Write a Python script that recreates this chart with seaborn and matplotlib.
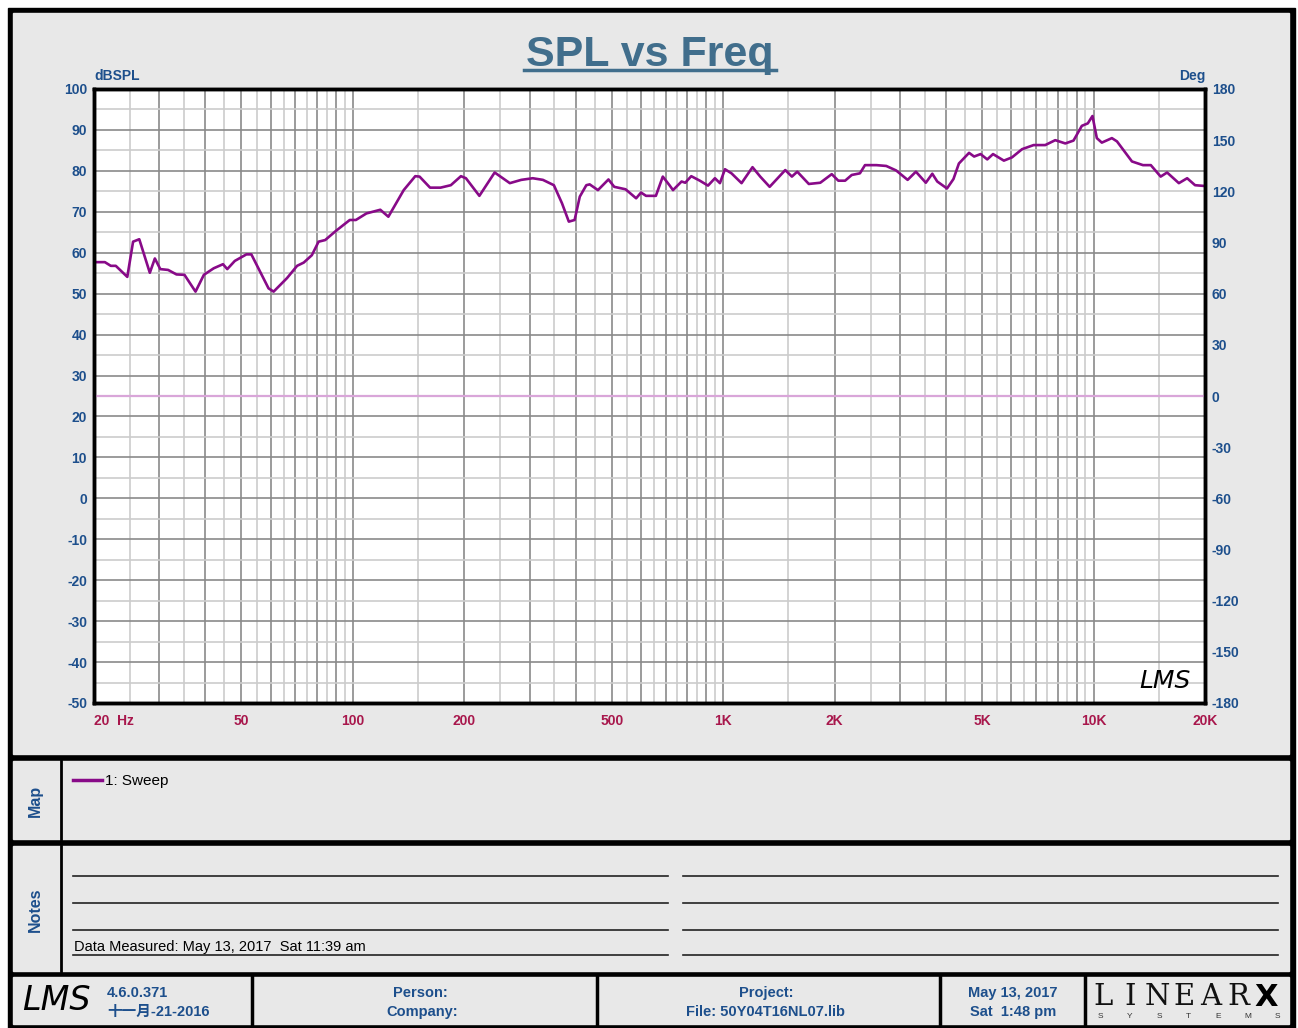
import numpy as np
import pandas as pd
import matplotlib
matplotlib.use("Agg")
import matplotlib.pyplot as plt
from matplotlib.patches import Rectangle
from matplotlib.ticker import NullFormatter
import seaborn as sns

# ---- data
freq_hz = [20, 21.4, 22.2, 22.9, 24.6, 25.5, 26.5, 28.3, 29.2, 30.2, 31.7, 33.4, 35.1, 37.6,
           39.6, 42.1, 44.6, 45.8, 48.0, 51.6, 53.2, 59.2, 61.1, 66.4, 70.7, 73.7, 77.5, 80.8,
           84.2, 89.9, 98.1, 101.9, 108.8, 118.6, 124.7, 137.2, 147.4, 151.4, 161.6, 172.5,
           183.9, 195.8, 202, 219.6, 241.5, 265.4, 284.9, 306, 326, 349, 367, 383, 397, 410,
           427, 436, 459, 490, 508, 545, 582, 600, 619, 658, 687, 716, 732, 772, 790, 820, 865,
           910, 950, 980, 1011, 1053, 1121, 1200, 1259, 1335, 1471, 1533, 1585, 1703, 1829,
           1964, 2046, 2134, 2224, 2340, 2415, 2594, 2756, 2931, 3148, 3314, 3525, 3670, 3785,
           4021, 4186, 4330, 4612, 4760, 4955, 5165, 5354, 5727, 6025, 6413, 6891, 7406, 7883,
           8392, 8830, 9300, 9651, 9935, 10208, 10530, 11210, 11570, 12700, 13600, 14280,
           15180, 15800, 17000, 17900, 18800, 20000]
spl_db = [57.7, 57.7, 56.8, 56.8, 54.1, 62.7, 63.3, 55.1, 58.6, 56.0, 55.8, 54.7, 54.6, 50.5,
          54.6, 56.2, 57.2, 56.0, 58.0, 59.6, 59.6, 51.3, 50.5, 53.8, 56.8, 57.6, 59.4, 62.7,
          63.1, 65.3, 68.0, 68.0, 69.6, 70.5, 68.8, 75.3, 78.7, 78.6, 75.9, 75.9,
          76.5, 78.7, 78.2, 73.9, 79.6, 77.0, 77.8, 78.2, 77.8, 76.5, 72.1, 67.6, 68.0, 73.7,
          76.5, 76.7, 75.3, 77.9, 76.1, 75.5, 73.3, 74.7, 73.9, 73.9, 78.6, 76.5, 75.3, 77.4,
          77.1, 78.7, 77.6, 76.4, 78.2, 77.0, 80.4, 79.4, 77.0, 80.9, 78.6, 76.1, 80.2, 78.6,
          79.8, 76.8, 77.1, 79.2, 77.6, 77.6, 79.0, 79.4, 81.4, 81.4, 81.2, 80.1, 77.8, 79.8,
          77.1, 79.3, 77.4, 75.7, 78.0, 81.8, 84.4, 83.5, 84.1, 82.8, 84.1, 82.5, 83.3, 85.3,
          86.3, 86.3, 87.5, 86.7, 87.4, 91.0, 91.6, 93.4, 88.0, 86.9, 88.0, 87.2, 82.3, 81.4,
          81.4, 78.6, 79.6, 77.0, 78.2, 76.5, 76.3]
phase_freq = [20, 20000]
phase_deg = [0, 0]

x_ticks = [20, 30, 40, 50, 60, 70, 80, 90, 100, 200, 300, 400, 500, 600, 700, 800, 900,
           1000, 2000, 3000, 4000, 5000, 6000, 7000, 8000, 9000, 10000, 20000]
x_minor = [25, 35, 45, 55, 65, 75, 85, 95, 150, 250, 350, 450, 550, 650, 750, 850, 950,
           1500, 2500, 3500, 4500, 5500, 6500, 7500, 8500, 9500, 15000]
x_labels = {20: "20  Hz", 50: "50", 100: "100", 200: "200", 500: "500", 1000: "1K",
            2000: "2K", 5000: "5K", 10000: "10K", 20000: "20K"}
spl_ticks = list(range(-50, 101, 10))
deg_ticks = list(range(-180, 181, 30))

BLUE = "#1d4f8c"
RED = "#a8174c"
CURVE = "#880a88"
GRAY = "#e8e8e8"

plt.rcParams["font.family"] = ["Liberation Sans", "DejaVu Sans"]

W, H = 1298, 1028
fig = plt.figure(figsize=(W / 100, H / 100), dpi=100)
fig.patch.set_facecolor("white")

# background layer in pixel coordinates
bg = fig.add_axes([0, 0, 1, 1])
bg.set_xlim(0, W)
bg.set_ylim(H, 0)
bg.axis("off")
bg.add_patch(Rectangle((8, 8), 1287, 1020, color="black"))
for y0, y1 in [(13, 754), (761, 839), (846, 971), (977, 1024)]:
    bg.add_patch(Rectangle((13, y0), 1276, y1 - y0, color=GRAY))
for y0, y1 in [(761, 839), (846, 971)]:
    bg.plot([61, 61], [y0, y1], color="black", lw=2)
for xd in [252, 597, 940, 1085]:
    bg.plot([xd, xd], [977, 1024], color="black", lw=2.5)

# title
bg.text(650, 66, "SPL vs Freq", fontsize=31, fontweight="bold", color="#416e8c",
        ha="center", va="baseline")
bg.plot([524, 776], [70, 70], color="#416e8c", lw=2.5)
bg.text(94, 80, "dBSPL", fontsize=10, fontweight="bold", color=BLUE, ha="left", va="baseline")
bg.text(1205, 80, "Deg", fontsize=10, fontweight="bold", color=BLUE, ha="right", va="baseline")

# map / notes panels
bg.text(35, 801, "Map", rotation=90, fontsize=11.5, fontweight="bold", color=BLUE,
        ha="center", va="center")
bg.text(35, 910, "Notes", rotation=90, fontsize=11.5, fontweight="bold", color=BLUE,
        ha="center", va="center")
bg.plot([73, 102], [780, 780], color=CURVE, lw=2.5)
bg.text(105, 781, "1: Sweep", fontsize=11, color="black", ha="left", va="center")
for yl in [876, 903, 930, 955]:
    bg.plot([73, 668], [yl, yl], color="#222222", lw=1.2)
    bg.plot([683, 1278], [yl, yl], color="#222222", lw=1.2)
bg.text(74, 954, "Data Measured: May 13, 2017  Sat 11:39 am", fontsize=10.5,
        color="black", ha="left", va="bottom")

# footer
foot = dict(fontsize=10.5, fontweight="bold", color=BLUE, va="center",
            family=["Liberation Sans", "Noto Sans CJK SC", "DejaVu Sans"])
bg.text(56, 1001, "LMS", fontsize=24, style="italic", family="DejaVu Sans",
        fontweight="light", ha="center", va="center", color="black")
bg.text(107, 993, "4.6.0.371", ha="left", **foot)
bg.text(107, 1012, "十一月-21-2016", ha="left", **foot)
bg.text(420, 993, "Person:", ha="center", **foot)
bg.text(422, 1012, "Company:", ha="center", **foot)
bg.text(766, 993, "Project:", ha="center", **foot)
bg.text(766, 1012, "File: 50Y04T16NL07.lib", ha="center", **foot)
bg.text(1013, 993, "May 13, 2017", ha="center", **foot)
bg.text(1013, 1012, "Sat  1:48 pm", ha="center", **foot)
for i, ch in enumerate("LINEAR"):
    bg.text(1103 + i * 27, 997, ch, fontsize=21, family="DejaVu Serif",
            fontweight="light", ha="center", va="center", color="#111111")
bg.text(1266, 997, "X", fontsize=22, fontweight="bold", family="DejaVu Sans",
        ha="center", va="center", color="black")
for i, ch in enumerate("SYSTEMS"):
    bg.text(1100 + i * 29.5, 1016, ch, fontsize=6, ha="center", va="center",
            color="#333333")

# main graph
ax = fig.add_axes([94 / W, 1 - 703 / H, (1205 - 94) / W, (703 - 89) / H])
ax.set_facecolor("white")
df = pd.DataFrame({"freq": freq_hz, "spl": spl_db})
sns.lineplot(data=df, x="freq", y="spl", ax=ax, color=CURVE, lw=1.9,
             sort=False, estimator=None, legend=False)
ax.set_xscale("log")
ax.set_xlim(20, 20000)
ax.set_ylim(-50, 100)
ax.set_xticks(x_ticks)
ax.set_xticks(x_minor, minor=True)
ax.xaxis.set_minor_formatter(NullFormatter())
ax.set_xticklabels([x_labels.get(t, "") for t in x_ticks])
ax.set_yticks(spl_ticks)
ax.set_yticks(list(range(-45, 100, 10)), minor=True)
ax.set_yticklabels([str(t) for t in spl_ticks])
ax.grid(which="major", color="#8a8a8a", lw=1.2)
ax.grid(which="minor", color="#cccccc", lw=1.2)
ax.set_axisbelow(True)
ax.set_xlabel("")
ax.set_ylabel("")
ax.tick_params(which="both", length=0)
ax.tick_params(axis="x", pad=8, labelsize=10, labelcolor=RED)
ax.tick_params(axis="y", pad=5, labelsize=10, labelcolor=BLUE)
for lab in ax.get_xticklabels() + ax.get_yticklabels():
    lab.set_fontweight("bold")
ax.get_xticklabels()[0].set_horizontalalignment("left")
for s in ax.spines.values():
    s.set_linewidth(2.5)
    s.set_color("black")
ax.text(0.964, 0.036, "LMS", transform=ax.transAxes, fontsize=18, style="italic",
        family="DejaVu Sans", fontweight="light", ha="center", va="center", color="black")

ax2 = ax.twinx()
pdf = pd.DataFrame({"freq": phase_freq, "phase": phase_deg})
sns.lineplot(data=pdf, x="freq", y="phase", ax=ax2, color="#d9a6d9", lw=1.6,
             estimator=None, legend=False)
ax2.set_ylim(-180, 180)
ax2.set_yticks(deg_ticks)
ax2.set_yticklabels([str(t) for t in deg_ticks])
ax2.set_ylabel("")
ax2.tick_params(length=0, pad=5, labelsize=10, labelcolor=BLUE)
for lab in ax2.get_yticklabels():
    lab.set_fontweight("bold")
for s in ax2.spines.values():
    s.set_linewidth(2.5)

fig.savefig("out.png", dpi=100, facecolor=fig.get_facecolor())
